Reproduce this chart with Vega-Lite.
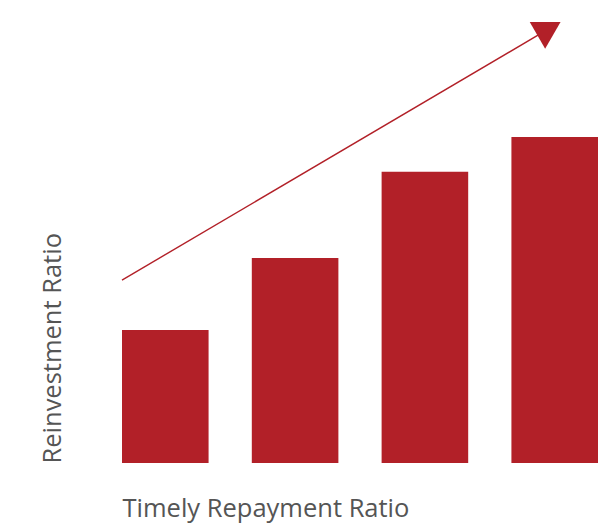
{
  "$schema": "https://vega.github.io/schema/vega-lite/v6.json",
  "width": 476,
  "height": 463,
  "autosize": {"type": "none"},
  "padding": {"left": 122, "top": 0, "right": 0, "bottom": 62},
  "background": "white",
  "config": {
    "view": {"stroke": null},
    "font": "Open Sans",
    "axis": {"titleFont": "Open Sans", "titleFontWeight": "normal", "titleColor": "#555555", "titleFontSize": 25.5}
  },
  "layer": [
    {
      "data": {
        "values": [
          {"group": "1", "ratio": 28.7},
          {"group": "2", "ratio": 44.3},
          {"group": "3", "ratio": 62.9},
          {"group": "4", "ratio": 70.4}
        ]
      },
      "mark": {"type": "bar", "color": "#B22028"},
      "encoding": {
        "x": {
          "field": "group",
          "type": "ordinal",
          "scale": {"paddingInner": 0.333, "paddingOuter": 0},
          "axis": {
            "title": "Timely Repayment Ratio",
            "labels": false,
            "ticks": false,
            "domain": false,
            "titleAnchor": "start",
            "titlePadding": 33
          }
        },
        "y": {
          "field": "ratio",
          "type": "quantitative",
          "scale": {"domain": [0, 100], "nice": false},
          "axis": {
            "title": "Reinvestment Ratio",
            "labels": false,
            "ticks": false,
            "domain": false,
            "grid": false,
            "titleAnchor": "start",
            "titlePadding": 57
          }
        }
      }
    },
    {
      "data": {"values": [{"x0": 0, "y0": 39.5, "x1": 427, "y1": 93.8}]},
      "layer": [
        {
          "mark": {"type": "rule", "color": "#B22028", "strokeWidth": 1.4},
          "encoding": {
            "x": {"field": "x0", "type": "quantitative", "scale": {"domain": [0, 476], "nice": false, "zero": false}, "axis": null},
            "y": {
              "field": "y0",
              "type": "quantitative",
              "axis": {
                "title": "Reinvestment Ratio",
                "labels": false,
                "ticks": false,
                "domain": false,
                "grid": false,
                "titleAnchor": "start",
                "titlePadding": 57
              }
            },
            "x2": {"field": "x1"},
            "y2": {"field": "y1"}
          }
        },
        {
          "mark": {"type": "point", "shape": "triangle-up", "filled": true, "color": "#B22028", "opacity": 1, "size": 950, "angle": 60},
          "encoding": {
            "x": {"field": "x1", "type": "quantitative", "axis": null},
            "y": {
              "field": "y1",
              "type": "quantitative",
              "axis": {
                "title": "Reinvestment Ratio",
                "labels": false,
                "ticks": false,
                "domain": false,
                "grid": false,
                "titleAnchor": "start",
                "titlePadding": 57
              }
            }
          }
        }
      ]
    }
  ],
  "resolve": {"scale": {"x": "independent"}}
}
